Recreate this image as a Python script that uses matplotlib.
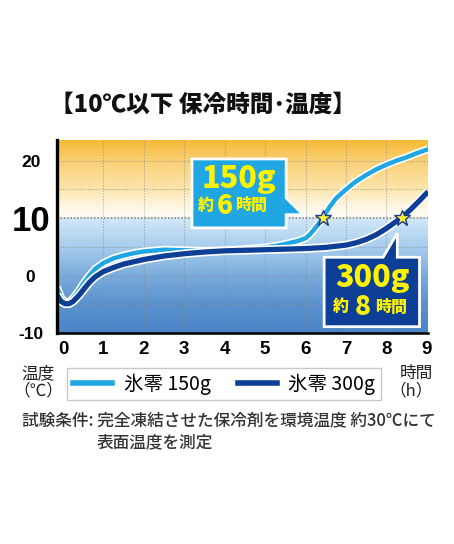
import numpy as np
import matplotlib
matplotlib.use("Agg")
import matplotlib.pyplot as plt
import matplotlib.patheffects as pe
from matplotlib.colors import LinearSegmentedColormap
from matplotlib.patches import Polygon
from matplotlib.lines import Line2D

plt.rcParams['font.family'] = ['Noto Sans CJK JP', 'DejaVu Sans']

# Data
hours_150 = [-0.15, -0.05, 0.05, 0.15, 0.25, 0.4, 0.5, 0.65, 0.8, 1.0, 1.25, 1.5, 1.75,
             2.0, 2.5, 3.0, 3.5, 4.0, 4.5, 5.0, 5.3, 5.5, 5.8, 6.0, 6.1, 6.2, 6.3, 6.4,
             6.5, 6.6, 6.75, 7.0, 7.25, 7.5, 7.75, 8.0, 8.25, 8.5, 8.75, 9.03]
temp_150 = [-2.0, -3.8, -4.6, -4.6, -3.9, -2.5, -1.4, 0.0, 1.2, 2.2, 3.0, 3.5, 3.9,
            4.2, 4.5, 4.4, 4.3, 4.4, 4.6, 4.9, 5.2, 5.5, 6.0, 6.5, 7.1, 7.9, 8.8, 9.8,
            10.9, 12.0, 13.4, 15.0, 16.4, 17.5, 18.5, 19.3, 20.0, 20.6, 21.3, 22.0]

hours_300 = [-0.15, -0.05, 0.05, 0.15, 0.25, 0.4, 0.5, 0.65, 0.8, 1.0, 1.25, 1.5, 1.75,
             2.0, 2.5, 3.0, 3.5, 4.0, 4.5, 5.0, 5.5, 6.0, 6.5, 7.0, 7.25, 7.5, 7.75,
             8.0, 8.2, 8.4, 8.6, 8.8, 9.03]
temp_300 = [-3.4, -4.5, -4.9, -4.9, -4.5, -3.4, -2.5, -1.2, -0.2, 0.7, 1.4, 2.0, 2.4,
            2.8, 3.4, 3.8, 4.1, 4.3, 4.4, 4.5, 4.6, 4.7, 4.9, 5.3, 5.7, 6.3, 7.1,
            8.2, 9.2, 10.2, 11.5, 12.9, 14.6]

star_hours = [6.42, 8.38]
star_temps = [10, 10]

x_ticks = [0, 1, 2, 3, 4, 5, 6, 7, 8, 9]
y_ticks = [-10, 0, 10, 20]

c150 = '#1fa6e3'
c300 = '#0c3f95'
yellow = '#fff200'

fig = plt.figure(figsize=(4.54, 5.44), dpi=100)
ax = fig.add_axes([57 / 454, 1 - 333 / 544, 371 / 454, 193 / 544])
x0, x1, y0, y1 = -0.15, 9.03, -10, 23.6
ax.set_xlim(x0, x1)
ax.set_ylim(y0, y1)

# background gradient: warm above 10, blue below
stops = [(y0, '#4a84c6'), (-5, '#5b92cd'), (0, '#7cacdc'), (5, '#a8cdee'),
         (9.99, '#d2e8f8'), (10.0, '#fffdf6'), (12, '#fff6e3'), (15, '#fde5ad'),
         (20, '#f9cf72'), (y1, '#f6b935')]
pos = [(v - y0) / (y1 - y0) for v, _ in stops]
cmap = LinearSegmentedColormap.from_list('bg', list(zip(pos, [c for _, c in stops])))
grad = np.linspace(0, 1, 600).reshape(-1, 1)
ax.imshow(grad, extent=[x0, x1, y0, y1], origin='lower', aspect='auto', cmap=cmap, zorder=0)

for xv in range(1, 9):
    ax.axvline(xv, color='#8a8a8a', lw=0.8, ls=(0, (1, 1.5)), alpha=0.7, zorder=1)
for yv in [-5, 0, 5, 15, 20]:
    ax.axhline(yv, color='#8a8a8a', lw=0.8, ls=(0, (1, 1.5)), alpha=0.7, zorder=1)
ax.axhline(10, color='#777777', lw=1.1, ls=(0, (1, 1.2)), zorder=1)

ax.plot(hours_150, temp_150, color=c150, lw=3.2, solid_capstyle='butt', zorder=3,
        path_effects=[pe.Stroke(linewidth=5.6, foreground='white'), pe.Normal()])
ax.plot(hours_300, temp_300, color=c300, lw=3.8, solid_capstyle='butt', zorder=4,
        path_effects=[pe.Stroke(linewidth=6.2, foreground='white'), pe.Normal()])

# callout boxes
box150 = [(3.19, 8.3), (5.52, 8.3), (5.52, 10.6), (5.94, 10.6), (5.52, 13.5),
          (5.52, 20.3), (3.19, 20.3)]
box300 = [(6.46, -8.9), (8.82, -8.9), (8.82, 3.19), (8.27, 3.19), (8.27, 7.4),
          (7.92, 3.19), (6.46, 3.19)]
ax.add_patch(Polygon(box150, closed=True, fc=c150, ec='white', lw=2, zorder=5))
ax.add_patch(Polygon(box300, closed=True, fc=c300, ec='white', lw=2, zorder=5))

big = dict(color=yellow, fontweight='black', ha='center', va='center', zorder=6)
ax.text(4.36, 16.9, '150g', fontsize=22, **big)
ax.text(3.54, 12.3, '約', fontsize=11.5, **big)
ax.text(3.99, 12.2, '6', fontsize=19, **big)
ax.text(4.65, 12.3, '時間', fontsize=11.5, **big)
ax.text(7.65, -0.3, '300g', fontsize=22, **big)
ax.text(6.88, -5.4, '約', fontsize=11.5, **big)
ax.text(7.42, -5.5, '8', fontsize=19, **big)
ax.text(8.11, -5.4, '時間', fontsize=11.5, **big)

ax.plot(star_hours, star_temps, ls='none', marker='*', ms=12, mfc='#fff23a',
        mec='#1b3a8c', mew=1.0, zorder=7)

for s in ['top', 'right']:
    ax.spines[s].set_visible(False)
ax.spines['left'].set_linewidth(2.4)
ax.spines['bottom'].set_linewidth(1.8)
ax.spines['left'].set_zorder(8)
ax.spines['bottom'].set_zorder(8)

ax.set_xticks(x_ticks)
ax.set_xticklabels([str(v) for v in x_ticks], fontsize=13.5, fontweight='bold',
                   family='Liberation Sans')
ax.set_yticks(y_ticks)
ax.set_yticklabels([str(v) for v in y_ticks], fontweight='bold', family='Liberation Sans')
ax.tick_params(length=0)
ax.tick_params(axis='x', pad=6)
ax.tick_params(axis='y', pad=19)
for lab in ax.get_yticklabels():
    lab.set_ha('center')
    lab.set_fontsize(25 if lab.get_text() == '10' else 12.5)

fig.text(50 / 454, 1 - 104 / 544, '【10℃以下 保冷時間･温度】', fontsize=17,
         fontweight='black', ha='left', va='center', color='#111111')

handles = [Line2D([], [], color=c150, lw=4), Line2D([], [], color=c300, lw=4)]
leg = fig.legend(handles, ['氷零 150g', '氷零 300g'], ncol=2, loc='center',
                 bbox_to_anchor=(224 / 454, 1 - 384 / 544), fontsize=14,
                 frameon=True, fancybox=False, edgecolor='#bbbbbb',
                 handlelength=2.0, columnspacing=1.4, handletextpad=0.6,
                 borderpad=0.3)
leg.get_frame().set_linewidth(1.0)

fig.text(38 / 454, 1 - 382 / 544, '温度\n（℃）', fontsize=12, ha='center',
         va='center', color='#222222', linespacing=1.0)
fig.text(433 / 454, 1 - 382 / 544, '時間\n（h）', fontsize=12, ha='right',
         va='center', color='#222222', linespacing=1.0, multialignment='right')

fig.text(22 / 454, 1 - 420 / 544, '試験条件: 完全凍結させた保冷剤を環境温度 約30℃にて',
         fontsize=12, ha='left', va='center', color='#333333', fontweight='medium')
fig.text(97 / 454, 1 - 442 / 544, '表面温度を測定', fontsize=12, ha='left',
         va='center', color='#333333', fontweight='medium')

fig.savefig('out.png', dpi=100)
